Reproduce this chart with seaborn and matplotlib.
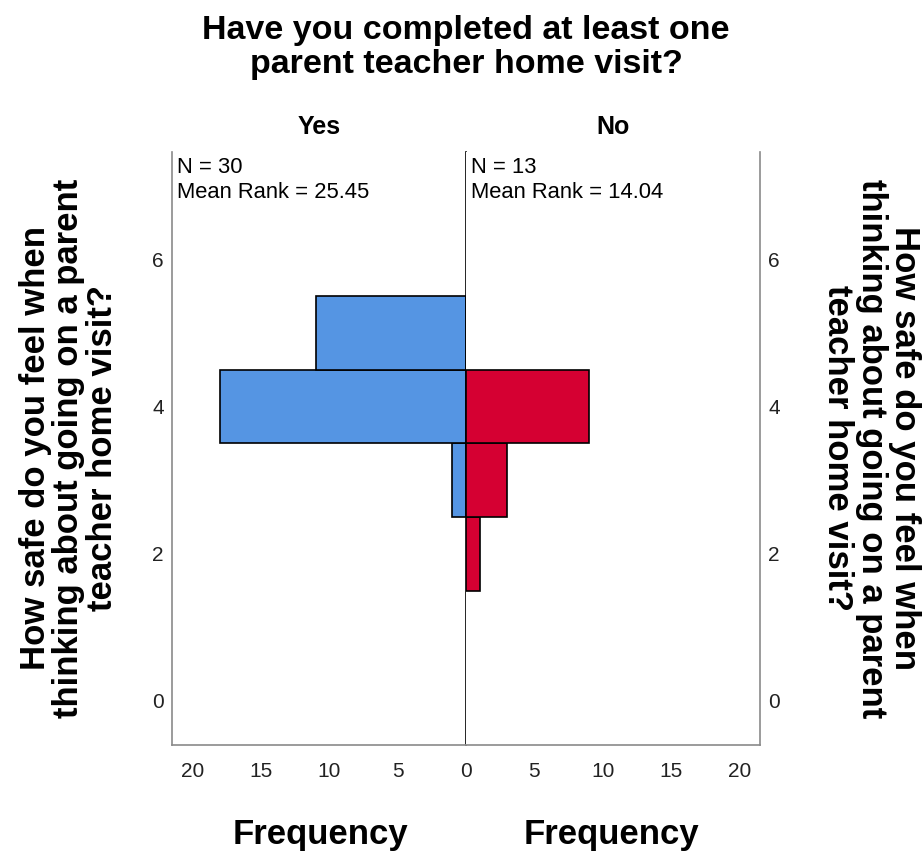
import matplotlib
matplotlib.use("Agg")
import matplotlib.pyplot as plt
import seaborn as sns
import pandas as pd

# Response levels of the safety question and frequencies per group
levels = [2, 3, 4, 5]
yes_counts = [0, 1, 18, 11]
no_counts = [1, 3, 9, 0]

group_labels = ["Yes", "No"]
group_n = [30, 13]
mean_ranks = [25.45, 14.04]

x_ticks = [0, 5, 10, 15, 20]
y_ticks = [0, 2, 4, 6]

title = "Have you completed at least one\nparent teacher home visit?"
y_title = "How safe do you feel when\nthinking about going on a parent\nteacher home visit?"
x_title = "Frequency"

sns.set_style("white")
plt.rcParams["font.family"] = ["Liberation Sans", "DejaVu Sans"]
plt.rcParams["text.color"] = "black"

BLUE = "#5595E3"
RED = "#D50032"
GRID_GREY = "#8a8a8a"
TICK_COLOR = "#222222"

fig = plt.figure(figsize=(9.23, 8.67), dpi=100)
ax_l = fig.add_axes([0.1864, 0.1407, 0.3185, 0.684])
ax_r = fig.add_axes([0.5049, 0.1407, 0.3185, 0.684])

df_yes = pd.DataFrame({"level": levels, "count": yes_counts})
df_no = pd.DataFrame({"level": levels, "count": no_counts})
df_yes = df_yes[df_yes["count"] > 0]
df_no = df_no[df_no["count"] > 0]

sns.barplot(data=df_yes, x="count", y="level", orient="h", native_scale=True,
            width=1.0, color=BLUE, saturation=1, edgecolor="black",
            linewidth=1.2, ax=ax_l)
sns.barplot(data=df_no, x="count", y="level", orient="h", native_scale=True,
            width=1.0, color=RED, saturation=1, edgecolor="black",
            linewidth=1.2, ax=ax_r)

for ax in (ax_l, ax_r):
    ax.set_ylim(-0.6, 7.46)
    ax.set_yticks(y_ticks)
    ax.set_yticklabels([str(t) for t in y_ticks])
    ax.set_xlabel("")
    ax.set_ylabel("")
    ax.tick_params(length=0, labelsize=15, labelcolor=TICK_COLOR)
    ax.tick_params(axis="x", pad=12)
    ax.tick_params(axis="y", pad=6)
    ax.spines["top"].set_visible(False)
    ax.spines["bottom"].set_color(GRID_GREY)
    ax.spines["bottom"].set_linewidth(1.2)
    ax.set_facecolor("white")

ax_l.set_xlim(21.5, 0)
ax_r.set_xlim(0, 21.5)
ax_l.set_xticks(x_ticks)
ax_l.set_xticklabels([str(t) for t in x_ticks])
ax_r.set_xticks(x_ticks[1:])
ax_r.set_xticklabels([str(t) for t in x_ticks[1:]])

ax_l.spines["left"].set_color(GRID_GREY)
ax_l.spines["left"].set_linewidth(1.2)
ax_l.spines["right"].set_color("black")
ax_l.spines["right"].set_linewidth(1.2)

ax_r.spines["left"].set_visible(False)
ax_r.spines["right"].set_visible(True)
ax_r.spines["right"].set_color(GRID_GREY)
ax_r.spines["right"].set_linewidth(1.2)
ax_r.yaxis.tick_right()

# Group headers and summary statistics
for ax, lab, n, mr in zip((ax_l, ax_r), group_labels, group_n, mean_ranks):
    ax.text(0.5, 1.042, lab, transform=ax.transAxes, ha="center", va="center",
            fontsize=18, fontweight="bold")
    ax.text(0.016, 0.992, f"N = {n}\nMean Rank = {mr:.2f}",
            transform=ax.transAxes, ha="left", va="top", fontsize=15.8,
            linespacing=1.25)

fig.text(0.505, 0.945, title, ha="center", va="center", fontsize=24.5,
         fontweight="bold", linespacing=1.1)

fig.text(0.0745, 0.483, y_title, ha="center", va="center", rotation=90,
         fontsize=25, fontweight="bold", linespacing=1.02)
fig.text(0.944, 0.483, y_title, ha="center", va="center", rotation=270,
         fontsize=25, fontweight="bold", linespacing=1.02)

fig.text(0.347, 0.037, x_title, ha="center", va="center", fontsize=25,
         fontweight="bold")
fig.text(0.663, 0.037, x_title, ha="center", va="center", fontsize=25,
         fontweight="bold")

fig.savefig("out.png", dpi=100, facecolor="white")
